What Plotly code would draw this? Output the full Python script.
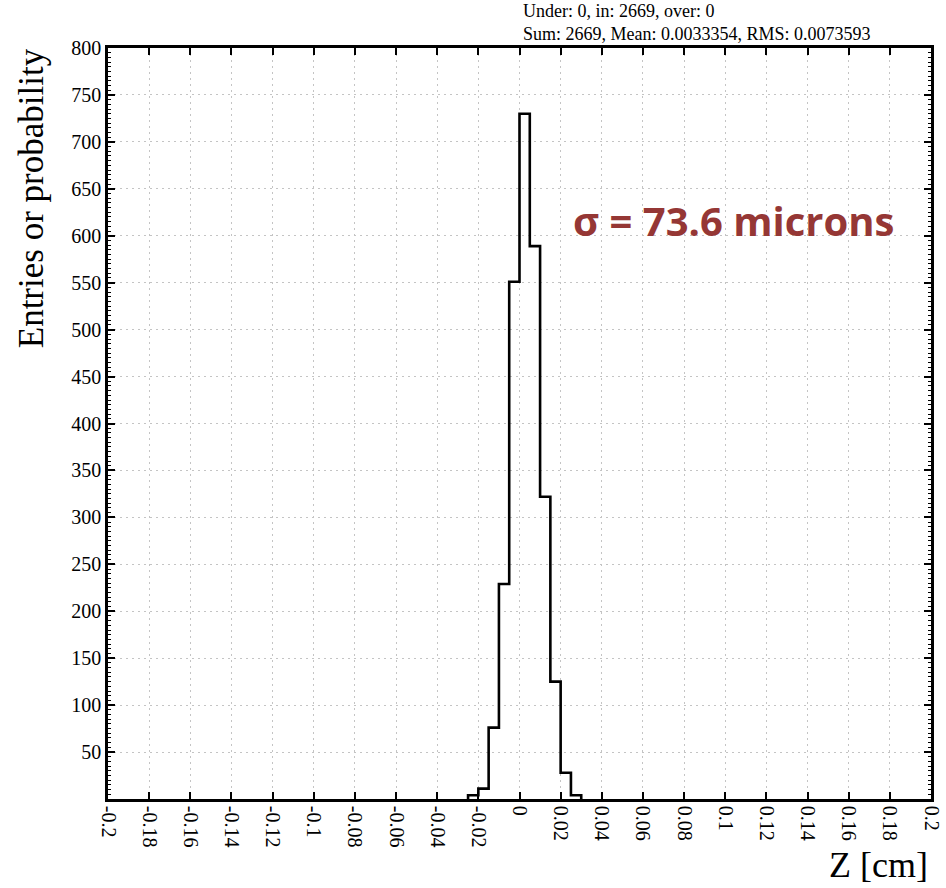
import plotly.graph_objects as go

# ---- data ----
bin_low_edges = [-0.025, -0.02, -0.015, -0.01, -0.005, 0.0, 0.005, 0.01, 0.015, 0.02, 0.025]
bin_width = 0.005
counts = [4, 11, 76, 229, 551, 730, 589, 322, 125, 28, 4]
x_ticks = [-0.2, -0.18, -0.16, -0.14, -0.12, -0.1, -0.08, -0.06, -0.04, -0.02, 0,
           0.02, 0.04, 0.06, 0.08, 0.1, 0.12, 0.14, 0.16, 0.18, 0.2]
y_ticks = list(range(50, 801, 50))
stats_lines = ["Under: 0, in: 2669, over: 0",
               "Sum: 2669, Mean: 0.0033354, RMS: 0.0073593"]
sigma_label = "σ = 73.6 microns"

# build step outline
xs = [bin_low_edges[0]]
ys = [0]
for lo, c in zip(bin_low_edges, counts):
    xs.append(lo)
    ys.append(c)
xs.append(bin_low_edges[-1] + bin_width)
ys.append(0)

serif = "Liberation Serif, Times New Roman, serif"

fig = go.Figure()
fig.add_trace(go.Scatter(x=xs, y=ys, mode="lines", line=dict(color="black", width=2.6, shape="hv"),
                         hoverinfo="skip", showlegend=False))

fig.update_layout(
    width=946, height=888,
    margin=dict(l=108, r=15, t=48, b=89, autoexpand=False),
    paper_bgcolor="white", plot_bgcolor="white",
    font=dict(family=serif, color="black", size=20),
    showlegend=False,
)
fig.update_xaxes(
    range=[-0.2, 0.2], tickvals=x_ticks, ticktext=[("%g" % v) for v in x_ticks],
    tickangle=90, tickfont=dict(family=serif, size=20, color="black"),
    showline=True, linecolor="black", linewidth=2.5, mirror="ticks",
    ticks="inside", ticklen=7, tickwidth=2, tickcolor="black",
    showgrid=True, gridcolor="#c4c4c4", griddash="2px,4px", gridwidth=1.2,
    zeroline=False, automargin=False,
)
fig.update_yaxes(
    range=[0, 800], tickvals=y_ticks, ticktext=[str(v) for v in y_ticks],
    tickfont=dict(family=serif, size=20, color="black"),
    showline=True, linecolor="black", linewidth=2.5, mirror="ticks",
    ticks="inside", ticklen=7, tickwidth=2, tickcolor="black",
    minor=dict(ticks="inside", ticklen=3, dtick=5, tickcolor="black", tickwidth=1, showgrid=False),
    showgrid=True, gridcolor="#c4c4c4", griddash="2px,4px", gridwidth=1.2,
    zeroline=False, automargin=False,
)

fig.add_annotation(text="<br>".join(stats_lines), xref="paper", yref="paper",
                   x=0.503, y=1, xanchor="left", yanchor="bottom", yshift=3,
                   align="left", showarrow=False, borderpad=0,
                   font=dict(family=serif, size=18, color="black"))
fig.add_annotation(text="<b>" + sigma_label + "</b>", xref="x", yref="y",
                   x=0.1038, y=616, xanchor="center", yanchor="middle",
                   showarrow=False, font=dict(family="Open Sans, Noto Sans, sans-serif", size=40, color="#953735"))
fig.add_annotation(text="Z [cm]", xref="paper", yref="paper", x=1, y=0,
                   xanchor="right", yanchor="middle", yshift=-66, xshift=-1,
                   showarrow=False, font=dict(family=serif, size=36, color="black"))
fig.add_annotation(text="Entries or probability", xref="paper", yref="paper",
                   x=-0.0935, y=0.800, xanchor="center", yanchor="middle", textangle=-90,
                   showarrow=False, font=dict(family=serif, size=35, color="black"))

fig.write_html("out.html")
